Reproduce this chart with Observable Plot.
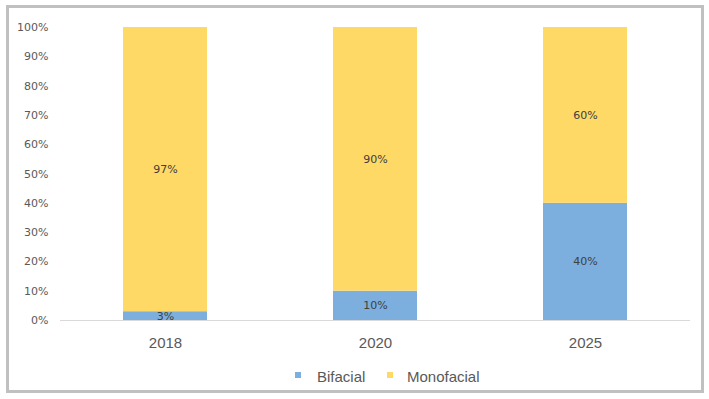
<!DOCTYPE html>
<html><head><meta charset="utf-8">
<script src="https://cdn.jsdelivr.net/npm/d3@7"></script>
<script src="https://cdn.jsdelivr.net/npm/@observablehq/plot@0.6"></script>
<style>
body{margin:0;background:#fff;}
#frame{position:absolute;left:6px;top:5px;width:692px;height:382px;border:3px solid #c0c0c0;}
#chart{position:absolute;left:0;top:0;}
#legend{position:absolute;top:367px;left:0;width:709px;height:20px;font:15px "Liberation Sans",Arial,sans-serif;color:#595959;}
.sw{position:absolute;top:5px;width:6px;height:6px;}
.lt{position:absolute;top:0;line-height:20px;}
</style></head>
<body>
<div id="frame"></div>
<div id="chart"></div>
<div id="legend"></div>
<script>
const years = ["2018", "2020", "2025"];
const series = ["Bifacial", "Monofacial"];
const bifacial = [3, 10, 40];
const monofacial = [97, 90, 60];
const colors = ["#7cafdd", "#ffd966"];
const yTicks = [0,10,20,30,40,50,60,70,80,90,100];

const data = [];
years.forEach((y, i) => {
  data.push({year: y, type: series[0], value: bifacial[i]});
  data.push({year: y, type: series[1], value: monofacial[i]});
});

const plot = Plot.plot({
  width: 709, height: 350,
  marginLeft: 60, marginRight: 19, marginTop: 27, marginBottom: 30,
  style: {background: "transparent", overflow: "visible"},
  x: {domain: years, paddingInner: 0.6, paddingOuter: 0.3, label: null},
  y: {domain: [0, 100], label: null},
  color: {domain: series, range: colors},
  marks: [
    Plot.barY(data, {x: "year", y: "value", fill: "type", order: series}),
    Plot.ruleY([0], {stroke: "#d9d9d9", strokeWidth: 1}),
    Plot.text(data, Plot.stackY({x: "year", y: "value", z: "type", order: series, text: d => d.value + "%", fill: "#404040", fontSize: 11, fontFamily: "DejaVu Sans, Verdana, sans-serif"})),
    Plot.axisY({ticks: yTicks, tickSize: 0, tickPadding: 12, tickFormat: d => d + "%", fontSize: 11, fontFamily: "DejaVu Sans, Verdana, sans-serif", color: "#595959", label: null}),
    Plot.axisX({tickSize: 0, tickPadding: 17, fontSize: 15, fontFamily: "Liberation Sans, Arial, sans-serif", color: "#595959", label: null})
  ]
});
document.getElementById("chart").appendChild(plot);

const legend = document.getElementById("legend");
const pos = [[295, 317], [387, 407]];
series.forEach((s, i) => {
  const sw = document.createElement("div");
  sw.className = "sw"; sw.style.left = pos[i][0] + "px"; sw.style.background = colors[i];
  const t = document.createElement("div");
  t.className = "lt"; t.style.left = pos[i][1] + "px"; t.textContent = s;
  legend.appendChild(sw); legend.appendChild(t);
});
</script>
</body></html>
